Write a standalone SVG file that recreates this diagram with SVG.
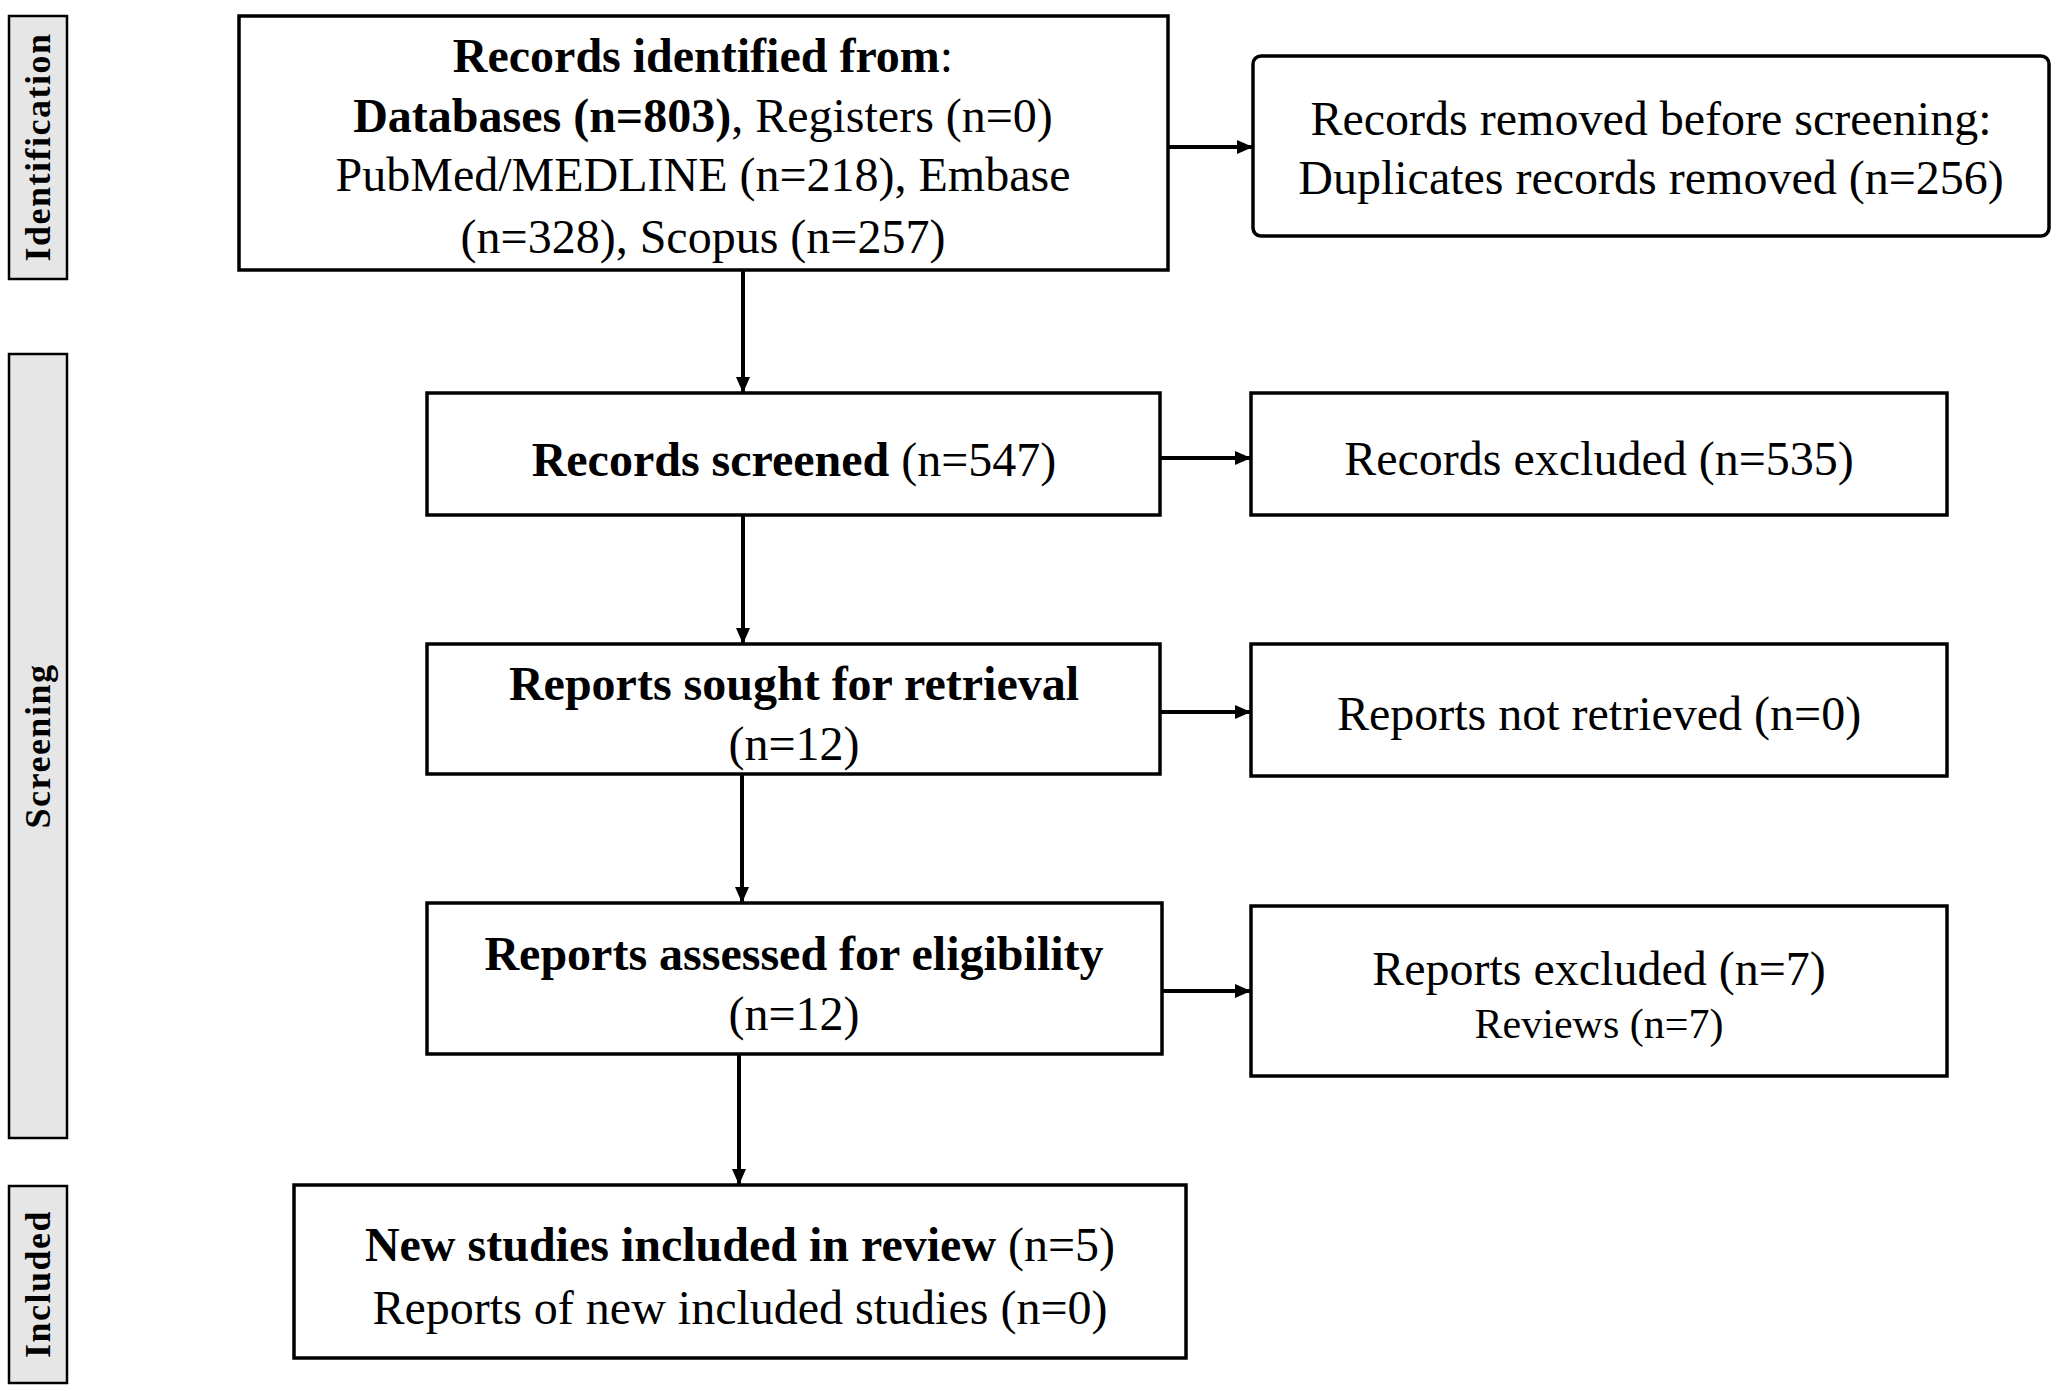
<svg xmlns="http://www.w3.org/2000/svg" width="2056" height="1391" viewBox="0 0 2056 1391">
<style>
.b{fill:#fff;stroke:#000;stroke-width:3.5}
.lab{fill:#e6e6e6;stroke:#000;stroke-width:2.5}
text{font-family:"Liberation Serif","Times New Roman",serif;font-size:48px;fill:#000;text-anchor:middle;dominant-baseline:central}
.bold{font-weight:bold}
.lt{font-weight:bold;font-size:36px;letter-spacing:1.5px}
.c{stroke:#000;stroke-width:4;fill:none}
</style>
<defs>
<marker id="ah" markerWidth="16" markerHeight="14" refX="16" refY="7" orient="auto" markerUnits="userSpaceOnUse"><path d="M0,0 L16,7 L0,14 Z" fill="#000"/></marker></defs>
<g id="labels">
<rect class="lab" x="9" y="16" width="58" height="263"/>
<text class="lt" transform="translate(38,147) rotate(-90)">Identification</text>
<rect class="lab" x="9" y="354" width="58" height="784"/>
<text class="lt" transform="translate(38,746) rotate(-90)">Screening</text>
<rect class="lab" x="9" y="1186" width="58" height="197"/>
<text class="lt" transform="translate(38,1284) rotate(-90)">Included</text>
</g>
<g id="connectors">
<line class="c" x1="1168" y1="147" x2="1253" y2="147" marker-end="url(#ah)"/>
<line class="c" x1="743" y1="270" x2="743" y2="393" marker-end="url(#ah)"/>
<line class="c" x1="1160" y1="458" x2="1251" y2="458" marker-end="url(#ah)"/>
<line class="c" x1="743" y1="515" x2="743" y2="644" marker-end="url(#ah)"/>
<line class="c" x1="1160" y1="712" x2="1251" y2="712" marker-end="url(#ah)"/>
<line class="c" x1="742" y1="774" x2="742" y2="903" marker-end="url(#ah)"/>
<line class="c" x1="1162" y1="991" x2="1251" y2="991" marker-end="url(#ah)"/>
<line class="c" x1="739" y1="1054" x2="739" y2="1185" marker-end="url(#ah)"/>
</g>
<g id="n1"><rect class="b" x="239" y="16" width="929" height="254"/>
<text x="703" y="55"><tspan class="bold">Records identified from</tspan>:</text>
<text x="703" y="115"><tspan class="bold">Databases (n=803)</tspan>, Registers (n=0)</text>
<text x="703" y="174">PubMed/MEDLINE (n=218), Embase</text>
<text x="703" y="236">(n=328), Scopus (n=257)</text></g>
<g id="r1"><rect class="b" x="1253" y="56" width="796" height="180" rx="8"/>
<text x="1651" y="118">Records removed before screening:</text>
<text x="1651" y="177">Duplicates records removed (n=256)</text></g>
<g id="n2"><rect class="b" x="427" y="393" width="733" height="122"/>
<text x="794" y="459"><tspan class="bold">Records screened</tspan> (n=547)</text></g>
<g id="r2"><rect class="b" x="1251" y="393" width="696" height="122"/>
<text x="1599" y="458">Records excluded (n=535)</text></g>
<g id="n3"><rect class="b" x="427" y="644" width="733" height="130"/>
<text x="794" y="683" class="bold">Reports sought for retrieval</text>
<text x="794" y="743">(n=12)</text></g>
<g id="r3"><rect class="b" x="1251" y="644" width="696" height="132"/>
<text x="1599" y="713">Reports not retrieved (n=0)</text></g>
<g id="n4"><rect class="b" x="427" y="903" width="735" height="151"/>
<text x="794" y="953" class="bold">Reports assessed for eligibility</text>
<text x="794" y="1013">(n=12)</text></g>
<g id="r4"><rect class="b" x="1251" y="906" width="696" height="170"/>
<text x="1599" y="968">Reports excluded (n=7)</text>
<text x="1599" y="1024" style="font-size:42px">Reviews (n=7)</text></g>
<g id="n5"><rect class="b" x="294" y="1185" width="892" height="173"/>
<text x="740" y="1244"><tspan class="bold">New studies included in review</tspan> (n=5)</text>
<text x="740" y="1307">Reports of new included studies (n=0)</text></g>
</svg>
